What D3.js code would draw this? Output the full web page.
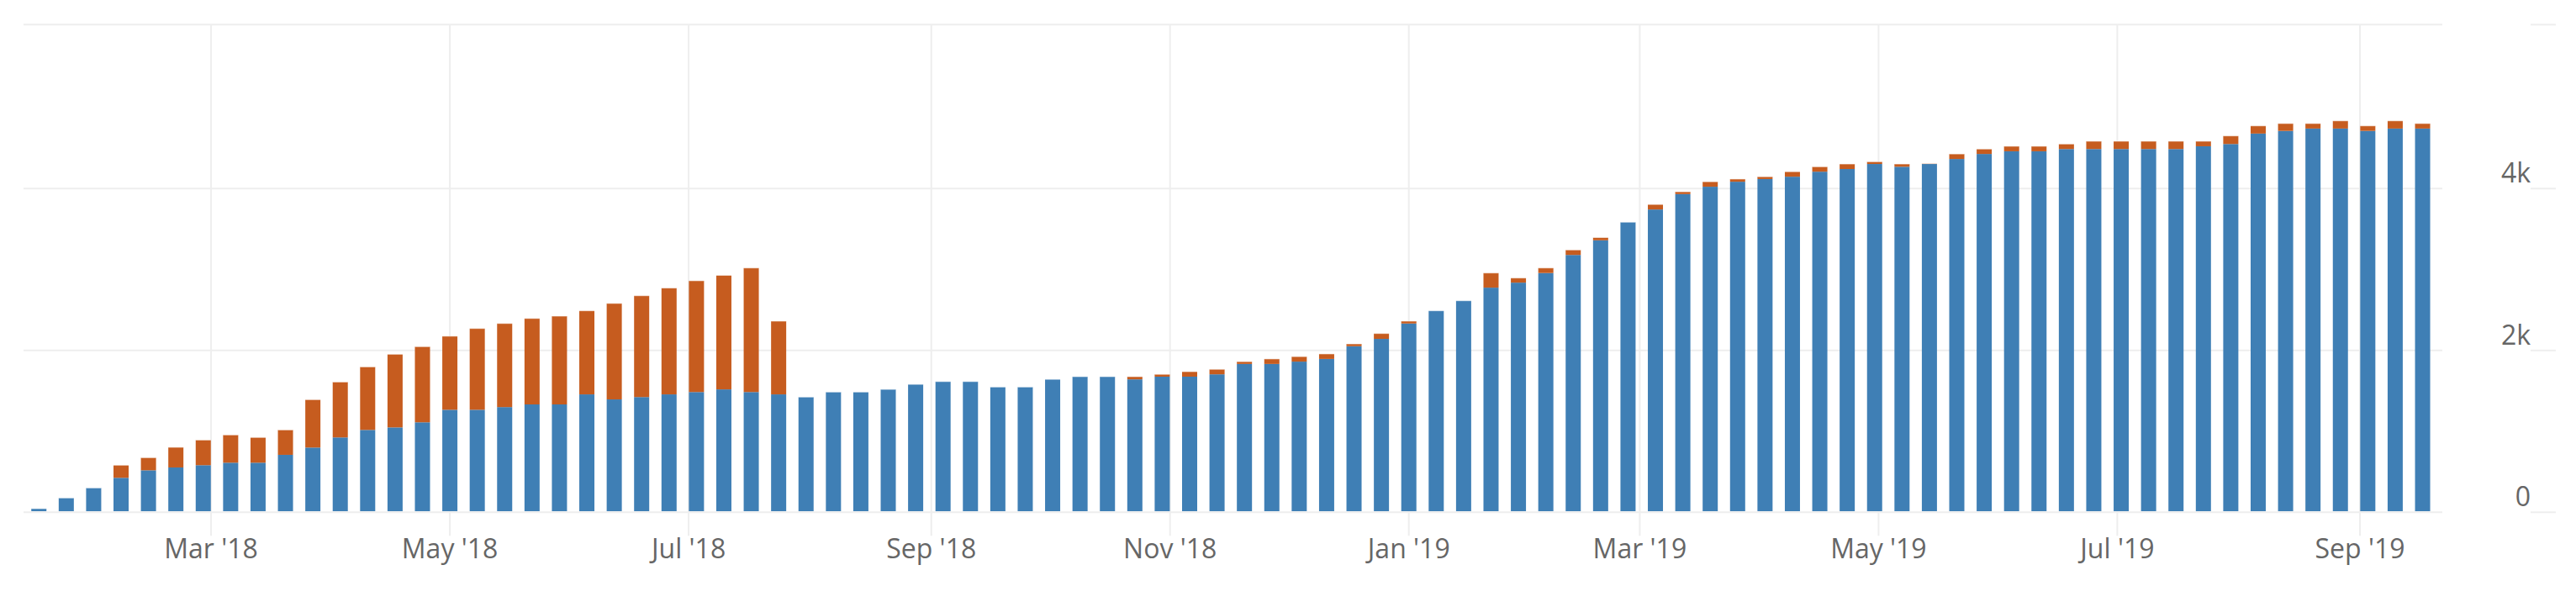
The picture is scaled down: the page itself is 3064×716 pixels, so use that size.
<!DOCTYPE html>
<html>
<head>
<meta charset="utf-8">
<script src="https://cdn.jsdelivr.net/npm/d3@7"></script>
<style>
  html, body { margin: 0; padding: 0; background: #ffffff; }
  svg { display: block; }
  text { font-family: "Open Sans", sans-serif; }
</style>
</head>
<body>
<svg id="chart" width="3064" height="716"></svg>
<script>
// ---- data (weekly, Tuesday dates) ----
const weeks = [
  "2018-01-16","2018-01-23","2018-01-30","2018-02-06","2018-02-13","2018-02-20","2018-02-27","2018-03-06",
  "2018-03-13","2018-03-20","2018-03-27","2018-04-03","2018-04-10","2018-04-17","2018-04-24","2018-05-01",
  "2018-05-08","2018-05-15","2018-05-22","2018-05-29","2018-06-05","2018-06-12","2018-06-19","2018-06-26",
  "2018-07-03","2018-07-10","2018-07-17","2018-07-24","2018-07-31","2018-08-07","2018-08-14","2018-08-21",
  "2018-08-28","2018-09-04","2018-09-11","2018-09-18","2018-09-25","2018-10-02","2018-10-09","2018-10-16",
  "2018-10-23","2018-10-30","2018-11-06","2018-11-13","2018-11-20","2018-11-27","2018-12-04","2018-12-11",
  "2018-12-18","2018-12-25","2019-01-01","2019-01-08","2019-01-15","2019-01-22","2019-01-29","2019-02-05",
  "2019-02-12","2019-02-19","2019-02-26","2019-03-05","2019-03-12","2019-03-19","2019-03-26","2019-04-02",
  "2019-04-09","2019-04-16","2019-04-23","2019-04-30","2019-05-07","2019-05-14","2019-05-21","2019-05-28",
  "2019-06-04","2019-06-11","2019-06-18","2019-06-25","2019-07-02","2019-07-09","2019-07-16","2019-07-23",
  "2019-07-30","2019-08-06","2019-08-13","2019-08-20","2019-08-27","2019-09-03","2019-09-10","2019-09-17"
];
const blueValues = [
  45, 177, 301, 426, 519, 554, 582, 613, 613, 710, 800, 925, 1018, 1049, 1112, 1267,
  1267, 1300, 1333, 1333, 1457, 1395, 1424, 1457, 1486, 1519, 1486, 1457, 1424, 1486, 1486, 1519,
  1581, 1615, 1615, 1548, 1548, 1643, 1676, 1676, 1643, 1676, 1676, 1705, 1833, 1833, 1862, 1895,
  2052, 2143, 2333, 2490, 2614, 2776, 2838, 2957, 3180, 3361, 3585, 3742, 3932, 4023, 4085, 4118,
  4147, 4209, 4242, 4304, 4270, 4304, 4366, 4428, 4461, 4461, 4489, 4489, 4489, 4489, 4489, 4523,
  4551, 4680, 4713, 4742, 4742, 4713, 4742, 4742
];
const orangeValues = [
  0, 0, 0, 156, 156, 249, 311, 343, 312, 308, 592, 685, 779, 904, 935, 909,
  1004, 1033, 1062, 1091, 1033, 1186, 1252, 1314, 1375, 1409, 1533, 905, 0, 0, 0, 0,
  0, 0, 0, 0, 0, 0, 0, 0, 33, 29, 62, 62, 29, 62, 62, 62,
  29, 66, 29, 0, 0, 181, 57, 62, 62, 34, 0, 62, 29, 62, 33, 29,
  62, 61, 62, 28, 34, 5, 62, 61, 62, 62, 62, 96, 96, 96, 96, 62,
  100, 95, 91, 62, 95, 62, 95, 62
];
const yTickValues = [0, 2000, 4000];
const yMax = 6026;
const xTickMonthStep = 2;

// ---- layout ----
const W = 3064, H = 716;
const plot = { left: 28, right: 2905, top: 29.3, bottom: 609.3 };
const gridColor = "#eeeeee";
const textColor = "#666666";
const blueColor = "#3f7fb5";
const orangeColor = "#c65c1f";

const parse = d3.utcParse("%Y-%m-%d");
const dates = weeks.map(parse);
const rows = dates.map((d, i) => ({ date: d, blue: blueValues[i], orange: orangeValues[i] }));

const x = d3.scaleUtc()
  .domain([new Date(Date.UTC(2018, 0, 12, 2)), new Date(Date.UTC(2019, 8, 22, 1))])
  .range([plot.left, plot.right]);
const y = d3.scaleLinear().domain([0, yMax]).range([plot.bottom, plot.top]);

const svg = d3.select("#chart");
svg.append("rect").attr("width", W).attr("height", H).attr("fill", "#fff");

// vertical grid (every second month: Mar, May, Jul, Sep, Nov, Jan)
const xTicks = d3.utcMonth.every(xTickMonthStep).range(x.domain()[0], x.domain()[1]);
const gx = svg.append("g");
gx.selectAll("line").data(xTicks).join("line")
  .attr("x1", d => x(d)).attr("x2", d => x(d))
  .attr("y1", plot.top).attr("y2", plot.bottom + 28)
  .attr("stroke", gridColor).attr("stroke-width", 2);
const fmt = d3.utcFormat("%b '%y");
gx.selectAll("text").data(xTicks).join("text")
  .attr("x", d => x(d)).attr("y", 664)
  .attr("text-anchor", "middle")
  .attr("font-size", 32).attr("fill", textColor)
  .text(d => fmt(d));

// horizontal grid
const yGrid = yTickValues.concat([yMax]);
const gy = svg.append("g");
gy.selectAll("line.g").data(yGrid).join("line").attr("class", "g")
  .attr("x1", plot.left).attr("x2", plot.right)
  .attr("y1", d => y(d)).attr("y2", d => y(d))
  .attr("stroke", gridColor).attr("stroke-width", 2);
gy.selectAll("line.t").data(yGrid).join("line").attr("class", "t")
  .attr("x1", 3010).attr("x2", 3040)
  .attr("y1", d => y(d)).attr("y2", d => y(d))
  .attr("stroke", gridColor).attr("stroke-width", 2);
const yfmt = d3.format("~s");
gy.selectAll("text").data(yTickValues).join("text")
  .attr("x", 3010).attr("y", d => y(d) - 7)
  .attr("text-anchor", "end")
  .attr("font-size", 32).attr("fill", textColor)
  .text(d => yfmt(d));

// bars
const barW = (x(d3.utcDay.offset(dates[0], 7)) - x(dates[0])) * 0.552;
const gb = svg.append("g");
gb.selectAll("rect.b").data(rows).join("rect").attr("class", "b")
  .attr("x", d => x(d.date) - barW / 2).attr("width", barW)
  .attr("y", d => y(d.blue)).attr("height", d => y(0) - y(d.blue) - 1.3)
  .attr("fill", blueColor);
gb.selectAll("rect.o").data(rows.filter(d => d.orange > 0)).join("rect").attr("class", "o")
  .attr("x", d => x(d.date) - barW / 2).attr("width", barW)
  .attr("y", d => y(d.blue + d.orange)).attr("height", d => y(d.blue) - y(d.blue + d.orange))
  .attr("fill", orangeColor);
// thin light cap on the top of each stack
gb.selectAll("rect.c").data(rows).join("rect").attr("class", "c")
  .attr("x", d => x(d.date) - barW / 2).attr("width", barW)
  .attr("y", d => y(d.blue + d.orange) - 0.5).attr("height", 1)
  .attr("fill", "#ffffff").attr("opacity", 0.55);
</script>
</body>
</html>
